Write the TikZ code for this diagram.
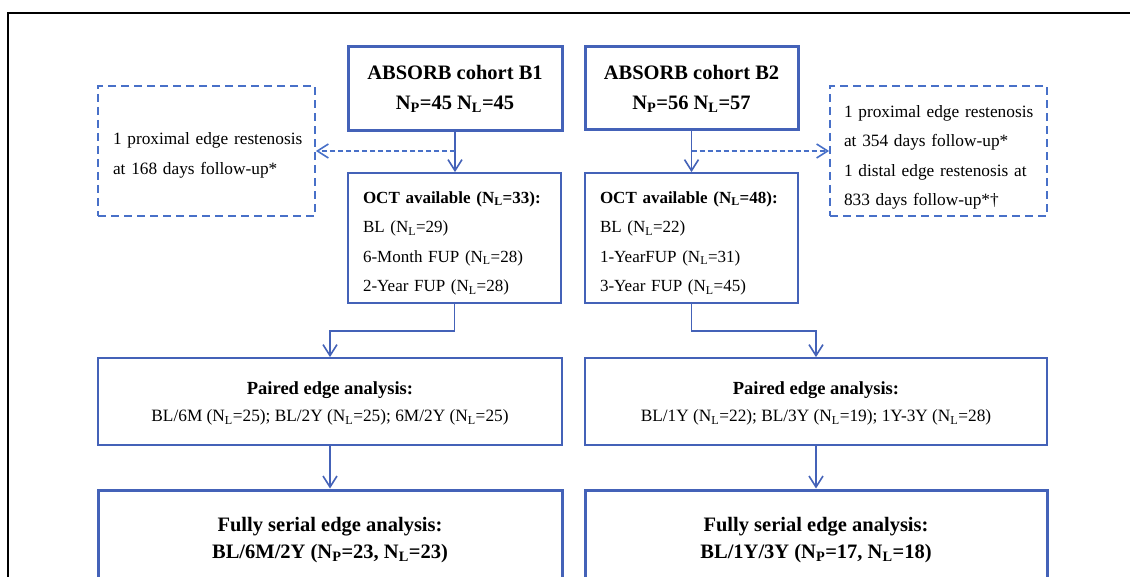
\documentclass[tikz,border=0pt]{standalone}
\usepackage{fontspec}
\setmainfont{Liberation Serif}
\usetikzlibrary{arrows.meta}
\definecolor{bx}{RGB}{68,98,184}
\definecolor{dbx}{RGB}{72,112,200}
\newcommand\ls[1]{\textsubscript{#1}}
\newcommand\pushdown[1]{\rule{0pt}{#1}}
\begin{document}
\begin{tikzpicture}[x=1pt,y=-1pt,
 thickbox/.style={draw=bx, line width=3pt, inner sep=0pt, align=center},
 thinbox/.style={draw=bx, line width=1.8pt, inner sep=0pt},
 dbox/.style={draw=dbx, line width=1.8pt, dash pattern=on 8pt off 5pt, inner sep=0pt},
 arr/.style={draw=bx, line width=1.6pt, -{Straight Barb[length=11pt,width=14pt,line width=1.6pt]}},
 darr/.style={arr, draw=dbx, dash pattern=on 5pt off 3pt}]
\useasboundingbox (0,0) rectangle (1130,577);
\clip (0,0) rectangle (1130,577);
\fill[white] (0,0) rectangle (1130,577);
\draw[line width=1.8pt] (8,600) -- (8,13) -- (1140,13);

\node[thickbox, minimum width=214, minimum height=84, font=\fontsize{20.5}{30}\selectfont\bfseries] (b1) at (455,89) {ABSORB cohort B1\\N\ls{P}=45 N\ls{L}=45};
\node[thickbox, minimum width=213, minimum height=83, font=\fontsize{20.5}{30}\selectfont\bfseries] (b2) at (691.5,88.5) {ABSORB cohort B2\\N\ls{P}=56 N\ls{L}=57};

\node[dbox, minimum width=217, minimum height=130, text width=187, align=left, font=\fontsize{17.3}{30}\selectfont] (ld) at (206.5,151) {\pushdown{21pt}\makebox[187pt][s]{1 proximal edge restenosis}\\at 168 days follow-up*};
\node[dbox, minimum width=217, minimum height=130, text width=189, align=left, font=\fontsize{17.3}{29.5}\selectfont] (rd) at (938.5,151) {\pushdown{25pt}\makebox[189pt][s]{1 proximal edge restenosis}\\at 354 days follow-up*\\\makebox[189pt][s]{1 distal edge restenosis at}\\833 days follow-up*\textdagger};

\node[thinbox, minimum width=213, minimum height=130, text width=183, align=left, font=\fontsize{17}{29.5}\selectfont] (oct1) at (454.5,238) {\pushdown{22.5pt}\textbf{OCT available (N\ls{L}=33):}\\BL (N\ls{L}=29)\\6-Month FUP (N\ls{L}=28)\\2-Year FUP (N\ls{L}=28)};
\node[thinbox, minimum width=213, minimum height=130, text width=183, align=left, font=\fontsize{17}{29.5}\selectfont] (oct2) at (691.5,238) {\pushdown{22.5pt}\textbf{OCT available (N\ls{L}=48):}\\BL (N\ls{L}=22)\\1-YearFUP (N\ls{L}=31)\\3-Year FUP (N\ls{L}=45)};

\node[thinbox, minimum width=464, minimum height=87, align=center, font=\fontsize{17.3}{27}\selectfont] (p1) at (330,401.5) {\pushdown{17.5pt}{\fontsize{18.5}{27}\selectfont\bfseries Paired edge analysis:}\\BL/6M (N\ls{L}=25); BL/2Y (N\ls{L}=25); 6M/2Y (N\ls{L}=25)};
\node[thinbox, minimum width=462, minimum height=87, align=center, font=\fontsize{17.3}{27}\selectfont] (p2) at (816,401.5) {\pushdown{17.5pt}{\fontsize{18.5}{27}\selectfont\bfseries Paired edge analysis:}\\BL/1Y (N\ls{L}=22); BL/3Y (N\ls{L}=19); 1Y-3Y (N\ls{L}=28)};

\node[thickbox, minimum width=464, minimum height=93, font=\fontsize{20.5}{27}\selectfont\bfseries] (f1) at (330,536.5) {\pushdown{21pt}Fully serial edge analysis:\\BL/6M/2Y (N\ls{P}=23, N\ls{L}=23)};
\node[thickbox, minimum width=462, minimum height=93, font=\fontsize{20.5}{27}\selectfont\bfseries] (f2) at (816,536.5) {\pushdown{21pt}Fully serial edge analysis:\\BL/1Y/3Y (N\ls{P}=17, N\ls{L}=18)};

\draw[arr] (b1.south) -- (b1.south |- oct1.north);
\draw[darr] (b1.south |- ld.east) -- (ld.east);
\draw[arr] (b2.south) -- (b2.south |- oct2.north);
\draw[darr] (b2.south |- rd.west) -- (rd.west);
\draw[arr] (oct1.south) -- ++(0,27) -| (p1.north);
\draw[arr] (oct2.south) -- ++(0,27) -| (p2.north);
\draw[arr] (p1.south) -- (f1.north);
\draw[arr] (p2.south) -- (f2.north);
\end{tikzpicture}
\end{document}
